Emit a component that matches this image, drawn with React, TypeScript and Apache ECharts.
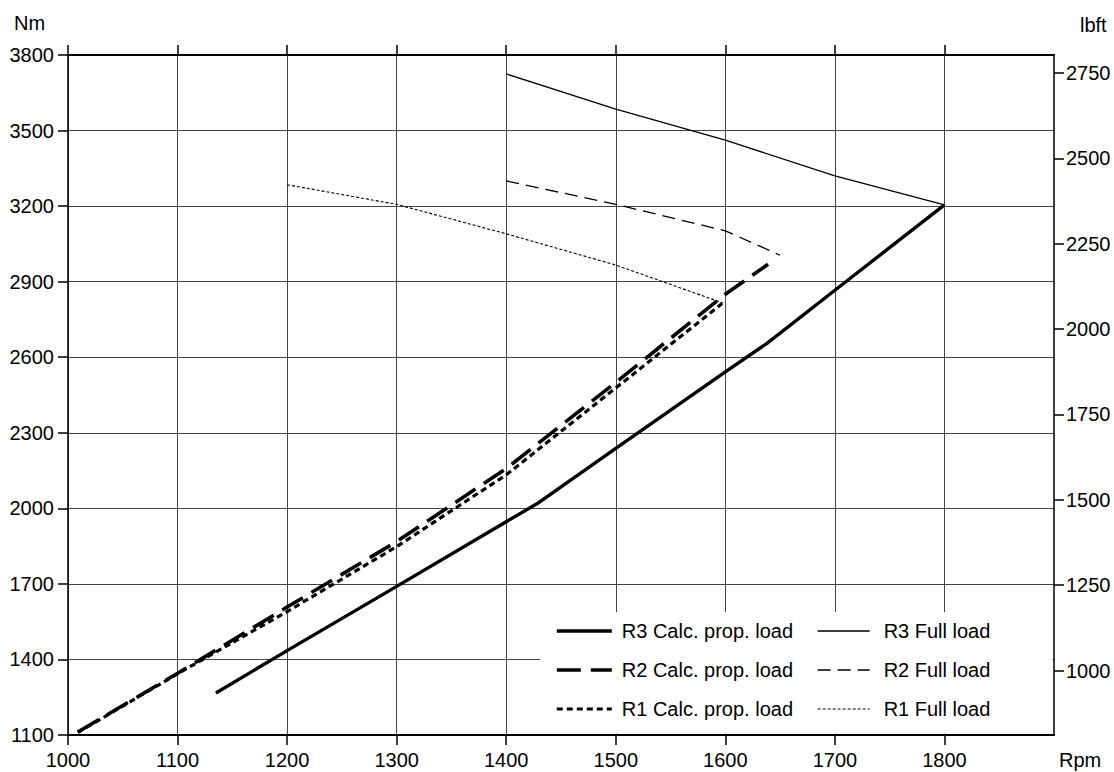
import React, { useEffect, useRef } from "react";
import * as echarts from "echarts";

const NM_TO_LBFT = 0.737562;

const rpmTicks = [1000, 1100, 1200, 1300, 1400, 1500, 1600, 1700, 1800];
const lbftTicks = [1000, 1250, 1500, 1750, 2000, 2250, 2500, 2750];

const r3CalcRpm = [1135, 1200, 1300, 1400, 1428, 1500, 1600, 1638, 1700, 1800];
const r3CalcNm = [1267, 1435, 1690, 1947, 2018, 2238, 2542, 2655, 2866, 3205];

const r2CalcRpm = [1009, 1100, 1200, 1300, 1400, 1500, 1600, 1639];
const r2CalcNm = [1112, 1345, 1608, 1868, 2158, 2500, 2850, 2969];

const r1CalcRpm = [1009, 1100, 1200, 1300, 1400, 1500, 1597];
const r1CalcNm = [1110, 1343, 1590, 1848, 2133, 2478, 2813];

const r3FullRpm = [1400, 1500, 1600, 1700, 1800];
const r3FullNm = [3725, 3585, 3462, 3320, 3205];

const r2FullRpm = [1400, 1500, 1600, 1650];
const r2FullNm = [3300, 3207, 3102, 3005];

const r1FullRpm = [1200, 1300, 1400, 1500, 1598];
const r1FullNm = [3285, 3207, 3090, 2966, 2815];

const pairs = (xs: number[], ys: number[]) => xs.map((x, i) => [x, ys[i]]);

const FONT = "Liberation Sans, Arial, sans-serif";

const styles: Record<string, { width: number; type: any }> = {
  "R3 Calc. prop. load": { width: 3.4, type: "solid" },
  "R2 Calc. prop. load": { width: 3.6, type: [24, 10] },
  "R1 Calc. prop. load": { width: 3.2, type: [6, 4] },
  "R3 Full load": { width: 1.3, type: "solid" },
  "R2 Full load": { width: 1.3, type: [13, 7] },
  "R1 Full load": { width: 1.1, type: [3, 2] },
};

export default function App() {
  const ref = useRef<HTMLDivElement>(null);
  useEffect(() => {
    if (!ref.current) return;
    const chart = echarts.init(ref.current, null, { renderer: "svg" });
    const mk = (name: string, data: number[][]) => ({
      name,
      type: "line",
      data,
      showSymbol: false,
      symbol: "none",
      smooth: false,
      lineStyle: { color: "#000", width: styles[name].width, type: styles[name].type },
      itemStyle: { color: "#000" },
      z: 3,
    });
    const legendItem = (name: string) => ({
      name,
      itemStyle: { opacity: 0, borderWidth: 0 },
      lineStyle: { color: "#000", width: styles[name].width, type: styles[name].type, opacity: 1 },
    });
    const labelStyle = { fontSize: 20, color: "#000", fontFamily: FONT };
    const fmt = (v: number) => String(Math.round(v));
    const option: any = {
      animation: false,
      backgroundColor: "#fff",
      textStyle: { fontFamily: FONT },
      grid: { left: 68, right: 60, top: 55, bottom: 37, containLabel: false },
      xAxis: [
        {
          type: "value",
          min: 1000,
          max: 1900,
          interval: 100,
          position: "bottom",
          axisLine: { show: true, onZero: false, lineStyle: { color: "#000", width: 2 } },
          axisTick: { show: true, length: 10, customValues: rpmTicks, lineStyle: { color: "#000", width: 1.5 } },
          axisLabel: {
            ...labelStyle,
            margin: 15,
            customValues: rpmTicks,
            formatter: (v: number) => (v === 1900 ? "" : fmt(v)),
          },
          splitLine: { show: true, lineStyle: { color: "#444", width: 1 } },
        },
        {
          type: "value",
          min: 1000,
          max: 1900,
          interval: 100,
          position: "top",
          axisLine: { show: true, onZero: false, lineStyle: { color: "#000", width: 2.2 } },
          axisTick: { show: true, length: 10, customValues: rpmTicks, lineStyle: { color: "#000", width: 1.5 } },
          axisLabel: { show: false },
          splitLine: { show: false },
        },
      ],
      yAxis: [
        {
          type: "value",
          min: 1100,
          max: 3800,
          interval: 300,
          position: "left",
          axisLine: { show: true, onZero: false, lineStyle: { color: "#000", width: 1.5 } },
          axisTick: { show: true, length: 10, lineStyle: { color: "#000", width: 1.5 } },
          axisLabel: { ...labelStyle, margin: 14, formatter: fmt },
          splitLine: { show: true, lineStyle: { color: "#444", width: 1 } },
        },
        {
          type: "value",
          min: 1100 * NM_TO_LBFT,
          max: 3800 * NM_TO_LBFT,
          position: "right",
          axisLine: { show: true, onZero: false, lineStyle: { color: "#000", width: 1.5 } },
          axisTick: { show: true, length: 10, customValues: lbftTicks, lineStyle: { color: "#000", width: 1.5 } },
          axisLabel: { ...labelStyle, margin: 12, customValues: lbftTicks, formatter: fmt },
          splitLine: { show: false },
        },
      ],
      legend: [
        {
          orient: "vertical",
          left: 555,
          top: 621,
          padding: 0,
          itemWidth: 55,
          itemHeight: 14,
          itemGap: 19,
          selectedMode: false,
          itemStyle: { opacity: 0, borderWidth: 0 },
          data: ["R3 Calc. prop. load", "R2 Calc. prop. load", "R1 Calc. prop. load"].map(legendItem),
          textStyle: { fontSize: 20, color: "#000", lineHeight: 20, fontFamily: FONT, padding: [0, 0, 0, 5] },
          z: 5,
        },
        {
          orient: "vertical",
          left: 817,
          top: 621,
          padding: 0,
          itemWidth: 52,
          itemHeight: 14,
          itemGap: 19,
          selectedMode: false,
          itemStyle: { opacity: 0, borderWidth: 0 },
          data: ["R3 Full load", "R2 Full load", "R1 Full load"].map(legendItem),
          textStyle: { fontSize: 20, color: "#000", lineHeight: 20, fontFamily: FONT, padding: [0, 0, 0, 9] },
          z: 5,
        },
      ],
      graphic: [
        {
          type: "rect",
          z: 1,
          silent: true,
          shape: { x: 540, y: 612, width: 512.5, height: 121.5 },
          style: { fill: "#fff" },
        },
        {
          type: "text",
          left: 14,
          top: 13,
          style: { text: "Nm", fontSize: 20, fill: "#000", fontFamily: FONT },
        },
        {
          type: "text",
          left: 1080,
          top: 15,
          style: { text: "lbft", fontSize: 20, fill: "#000", fontFamily: FONT },
        },
        {
          type: "text",
          left: 1059,
          top: 750,
          style: { text: "Rpm", fontSize: 20, fill: "#000", fontFamily: FONT },
        },
      ],
      series: [
        mk("R3 Calc. prop. load", pairs(r3CalcRpm, r3CalcNm)),
        mk("R2 Calc. prop. load", pairs(r2CalcRpm, r2CalcNm)),
        mk("R1 Calc. prop. load", pairs(r1CalcRpm, r1CalcNm)),
        mk("R3 Full load", pairs(r3FullRpm, r3FullNm)),
        mk("R2 Full load", pairs(r2FullRpm, r2FullNm)),
        mk("R1 Full load", pairs(r1FullRpm, r1FullNm)),
      ],
    };
    chart.setOption(option);
    return () => chart.dispose();
  }, []);
  return (
    <div
      ref={ref}
      style={{ position: "absolute", left: 0, top: 0, width: 1114, height: 772 }}
    />
  );
}
